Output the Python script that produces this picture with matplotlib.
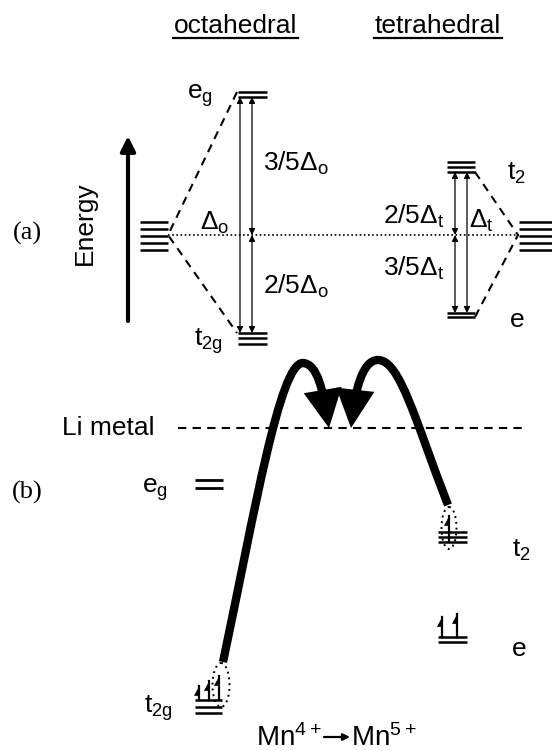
import numpy as np
import matplotlib
matplotlib.use('Agg')
import matplotlib.pyplot as plt
from matplotlib.patches import Ellipse, FancyArrowPatch
from matplotlib.path import Path

plt.rcParams['font.family'] = ['Liberation Sans', 'DejaVu Sans']
plt.rcParams['mathtext.default'] = 'regular'

# level positions (pixel coordinates of the reference, y downwards)
free_ion_y = [222, 229, 236, 243, 250]
oct_eg_y = [92, 97]
oct_t2g_y = [333, 338, 344]
tet_t2_y = [162, 167, 172]
tet_e_y = [313, 317]
center_y = 235

b_eg_y = [480, 488]
b_t2g_y = [700, 707, 713]
b_t2_y = [532, 537, 542]
b_e_y = [637, 642]
li_metal_y = 428

# spin-up electrons: (x, bottom, top)
t2g_spins = [(199, 700, 686), (209, 700, 681), (219, 700, 676)]
t2_spins = [(449, 542, 516)]
e_spins = [(442, 637, 617), (457, 637, 614)]

fig = plt.figure(figsize=(5.52, 7.51), dpi=100)
ax = fig.add_axes([0, 0, 1, 1])
ax.set_xlim(0, 552)
ax.set_ylim(751, 0)
ax.axis('off')

def levels(x0, x1, ys, lw=1.8):
    for y in ys:
        ax.plot([x0, x1], [y, y], color='black', lw=lw, solid_capstyle='butt')

def darrow(x, y0, y1):
    ax.annotate('', xy=(x, y1), xytext=(x, y0),
                arrowprops=dict(arrowstyle='<|-|>', color='black', lw=0.9,
                                mutation_scale=9, shrinkA=0, shrinkB=0))

def spin(x, yb, yt):
    ax.plot([x, x], [yb, yt], color='black', lw=1.6)
    ax.fill([x, x, x - 5], [yt, yt + 9, yt + 9], color='black', lw=0.5)

# titles
for label, xc, x0, x1 in [('octahedral', 235.5, 173, 298), ('tetrahedral', 438, 374, 502)]:
    ax.text(xc, 33, label, fontsize=19, ha='center', va='baseline')
    ax.plot([x0, x1], [37.5, 37.5], color='black', lw=1.6)

# (a) panel
ax.text(27, 233, '(a)', fontsize=19, family='Liberation Serif', ha='center', va='center')
ax.text(85, 223, 'Energy', fontsize=19, rotation=90, ha='center', va='center')
ax.annotate('', xy=(128, 136), xytext=(128, 321),
            arrowprops=dict(arrowstyle='-|>', color='black', lw=3,
                            mutation_scale=22, shrinkA=0, shrinkB=0))

levels(140, 168, free_ion_y)
levels(238, 267, oct_eg_y)
levels(238, 267, oct_t2g_y)
levels(447, 475, tet_t2_y)
levels(447, 475, tet_e_y)
levels(519, 552, free_ion_y)

ax.plot([168, 519], [center_y, center_y], color='black', lw=1.2, ls=(0, (1, 1.5)))
ax.plot([237, 168, 237], [oct_eg_y[0], center_y, oct_t2g_y[0]], color='black', lw=1.5, ls=(0, (4, 3)))
ax.plot([475, 518, 475], [tet_t2_y[-1], center_y, tet_e_y[-1]], color='black', lw=1.5, ls=(0, (4, 3)))

darrow(240, oct_eg_y[-1], oct_t2g_y[0])
darrow(252, oct_eg_y[-1], center_y)
darrow(252, center_y, oct_t2g_y[0])
darrow(467, tet_t2_y[-1], tet_e_y[0])
darrow(455, tet_t2_y[-1], center_y)
darrow(455, center_y, tet_e_y[0])

ax.text(200, 96, '$e_g$', fontsize=19, ha='center', va='center')
ax.text(208, 341, '$t_{2g}$', fontsize=19, ha='center', va='center')
ax.text(263, 163, '3/5Δ$_o$', fontsize=19, ha='left', va='center')
ax.text(263, 286, '2/5Δ$_o$', fontsize=19, ha='left', va='center')
ax.text(200, 230, 'Δ$_o$', fontsize=19, ha='left', va='baseline')
ax.text(383, 216, '2/5Δ$_t$', fontsize=19, ha='left', va='center')
ax.text(383, 268, '3/5Δ$_t$', fontsize=19, ha='left', va='center')
ax.text(469, 228, 'Δ$_t$', fontsize=19, ha='left', va='baseline')
ax.text(507, 173, '$t_2$', fontsize=19, ha='left', va='center')
ax.text(510, 320, 'e', fontsize=19, ha='left', va='center')

# (b) panel
ax.text(27, 492, '(b)', fontsize=19, family='Liberation Serif', ha='center', va='center')
ax.text(62, 428, 'Li metal', fontsize=19, ha='left', va='center')
ax.plot([178, 522], [li_metal_y, li_metal_y], color='black', lw=1.5, ls=(0, (4, 3)))

levels(195, 223, b_eg_y, lw=2)
levels(195, 222, b_t2g_y)
levels(438, 467, b_t2_y)
levels(438, 467, b_e_y)

for s in t2g_spins:
    spin(*s)
for s in t2_spins:
    spin(*s)
for s in e_spins:
    spin(*s)

ax.add_patch(Ellipse((221, 685), 17, 44, fill=False, lw=1.4, ls=(0, (1, 2)), color='black'))
ax.add_patch(Ellipse((449, 528), 15, 42, fill=False, lw=1.4, ls=(0, (1, 2)), color='black'))

ax.text(155, 490, '$e_g$', fontsize=19, ha='center', va='center')
ax.text(158, 708, '$t_{2g}$', fontsize=19, ha='center', va='center')
ax.text(512, 550, '$t_2$', fontsize=19, ha='left', va='center')
ax.text(512, 649, 'e', fontsize=19, ha='left', va='center')

# Mn4+ -> Mn5+ caption
ax.text(256, 746, 'Mn$^{4+}$', fontsize=20, ha='left', va='baseline')
ax.annotate('', xy=(350, 737), xytext=(324, 737),
            arrowprops=dict(arrowstyle='-|>', color='black', lw=1.6,
                            mutation_scale=10, shrinkA=0, shrinkB=0))
ax.text(351, 746, 'Mn$^{5+}$', fontsize=20, ha='left', va='baseline')

# electron hopping curves
codes = [Path.MOVETO, Path.CURVE4, Path.CURVE4, Path.CURVE4,
         Path.CURVE4, Path.CURVE4, Path.CURVE4]
hop1 = Path([(223, 662), (255, 510), (280, 362), (303, 363),
             (318, 364), (323, 392), (329, 428)], codes)
hop2 = Path([(448, 505), (415, 420), (400, 360), (378, 360),
             (362, 360), (355, 392), (351, 428)], codes)
for p in [hop1, hop2]:
    ax.add_patch(FancyArrowPatch(path=p, arrowstyle='-|>,head_length=0.6,head_width=0.3',
                                 mutation_scale=30, lw=6, color='black',
                                 joinstyle='miter', capstyle='butt'))

fig.savefig('out.png', dpi=100)
